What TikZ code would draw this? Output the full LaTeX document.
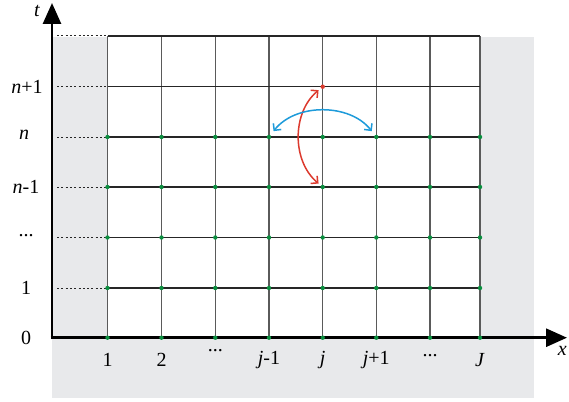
\documentclass[tikz,border=0pt]{standalone}
\usepackage{fontspec}
\setmainfont{Liberation Serif}
\usetikzlibrary{arrows.meta}
\definecolor{bgray}{HTML}{E8E9EB}
\definecolor{dotgreen}{HTML}{0A8F3F}
\definecolor{arred}{HTML}{DC3A2E}
\definecolor{arblue}{HTML}{1E9BDA}
\definecolor{vline}{HTML}{5A5A5A}
\definecolor{hline}{HTML}{262626}
\tikzset{
  lbl/.style={font=\fontsize{20}{23}\selectfont, inner sep=0pt},
  gdot/.style={circle, fill=dotgreen, inner sep=0pt, minimum size=4.4pt},
  rdot/.style={circle, fill=arred, inner sep=0pt, minimum size=4.4pt},
  axis/.style={line width=2.8pt, -{Triangle[length=21pt,width=18pt]}},
  hgrid/.style={hline, line width=1.1pt},
  vgrid/.style={vline, line width=1.1pt},
  dots/.style={hline, line width=1pt, dash pattern=on 2pt off 2.3pt},
  curvarrow/.style={line width=1.5pt, {Straight Barb[length=5pt,width=10pt]}-{Straight Barb[length=5pt,width=10pt]}}
}
\begin{document}
\begin{tikzpicture}[x=1pt,y=-1pt]
\useasboundingbox (0,0) rectangle (569,401);
\fill[bgray] (52,37) rectangle (534,398);
% grid coordinates
\def\xs{{107.5,161.5,215.3,269,322.7,376.3,430,480}}
\def\ys{{337.7,288,237.5,187,137,86.7,36}}
\foreach \i in {0,...,7}{
  \foreach \k in {0,...,6}{
    \pgfmathsetmacro{\xx}{\xs[\i]}
    \pgfmathsetmacro{\yy}{\ys[\k]}
    \coordinate (c-\i-\k) at (\xx,\yy);
  }
}
\fill[white] (c-0-0) rectangle (c-7-6);
% vertical grid lines
\foreach \i in {0,...,7}{ \draw[vgrid] (c-\i-0) -- (c-\i-6); }
% horizontal grid lines
\foreach \k in {1,...,6}{ \draw[hgrid] (c-0-\k) -- (c-7-\k); }
% dotted leaders
\foreach \k in {1,...,6}{
  \coordinate (d-\k) at ([xshift=-50.5pt]c-0-\k);
  \draw[dots] (d-\k) -- (c-0-\k);
}
% axes
\coordinate (o) at (52,337.7);
\coordinate (ttip) at (52,3);
\coordinate (xtip) at (567,337.7);
\draw[axis] ([yshift=1.4pt]o) -- (ttip);
\draw[axis] ([xshift=-1.4pt]o) -- (xtip);
% green dots
\foreach \i in {0,...,7}{
  \foreach \k in {0,...,4}{
    \node[gdot] (g-\i-\k) at (c-\i-\k) {};
  }
}
\node[rdot] (r) at (c-4-5) {};
% curved arrows
\draw[curvarrow, arred, shorten <=3pt, shorten >=3pt] (r) to[bend right=50] (g-4-3);
\draw[curvarrow, arblue, shorten <=5pt, shorten >=5pt] (g-3-4) to[bend left=52] (g-5-4);
% axis labels
\node[lbl] (tl) at (37,11) {\textit{t}};
\node[lbl, anchor=east] (xl) at (567,351) {\textit{x}};
% t labels
\node[lbl] (l0) at (26,337.7) {0};
\node[lbl] (l1) at (26,288) {1};
\node[lbl] (l2) at (26,236) {...};
\node[lbl] (l3) at (26,187) {\textit{n}-1};
\node[lbl] (l4) at (24,135) {\textit{n}};
\node[lbl] (l5) at (27,86.7) {\textit{n}+1};
% x labels
\node[lbl] (b0) at (107.5,360) {1};
\node[lbl] (b1) at (161.5,360) {2};
\node[lbl] (b2) at (215.3,351) {...};
\node[lbl] (b3) at (269,360) {\textit{j}-1};
\node[lbl] (b4) at (322.7,360) {\textit{j}};
\node[lbl] (b5) at (376.3,360) {\textit{j}+1};
\node[lbl] (b6) at (430,356) {...};
\node[lbl] (b7) at (480,360) {\textit{J}};
\end{tikzpicture}
\end{document}
